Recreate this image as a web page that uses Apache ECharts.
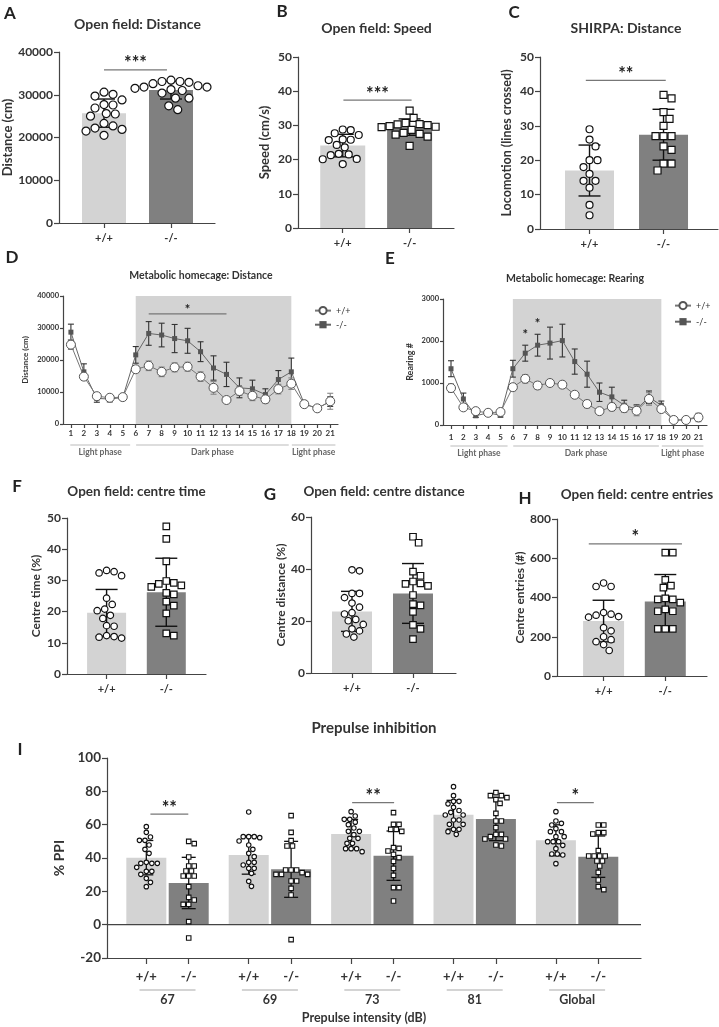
<!DOCTYPE html>
<html><head><meta charset="utf-8">
<script src="https://cdn.jsdelivr.net/npm/echarts@6/dist/echarts.min.js"></script>
<style>html,body{margin:0;padding:0;background:#fff}#c{width:719px;height:1027px}</style>
</head><body><div id="c"></div>
<script>
// ---------------- DATA ----------------
const genotypes = ['+/+', '-/-'];
// A: Open field distance (cm)
const aWT = [30600, 30100, 29700, 28800, 27700, 27600, 26900, 25600, 25500, 25000, 23300, 22700, 22200, 21900, 21500, 20500];
const aKO = [33400, 33100, 33100, 32900, 32600, 32100, 31800, 31800, 31500, 31200, 31000, 30400, 29200, 29200, 27400, 26500];
const aMean = [25700, 31100];
const aSD = [3300, 2100];
// B: Open field speed (cm/s)
const bWT = [28.8, 28.6, 27.7, 27.2, 25.9, 25.8, 25.7, 24.3, 23.6, 21.7, 21.5, 21.3, 20.2, 20.1, 18.7];
const bKO = [34.3, 32.2, 30.7, 30.4, 30.3, 30.1, 29.8, 29.6, 29.5, 28.7, 27.8, 27.5, 27.3, 26.7, 24.0];
const bMean = [24.1, 29.5];
const bSD = [3.3, 2.4];
// C: SHIRPA locomotion (lines crossed)
const cWT = [29, 26, 24, 20, 20, 18, 16, 14, 14, 12, 7, 4];
const cKO = [39, 38, 34, 32, 30, 27, 27, 27, 24, 23, 19, 19, 17];
const cMean = [17, 27.4];
const cSD = [7.4, 7.4];
// D: Metabolic homecage distance (cm), hours 1-21
const hours = [1, 2, 3, 4, 5, 6, 7, 8, 9, 10, 11, 12, 13, 14, 15, 16, 17, 18, 19, 20, 21];
const dWT = [24800, 14800, 8700, 8200, 8400, 17100, 18200, 16300, 17700, 17900, 14800, 11300, 7500, 10300, 8800, 7700, 10900, 12600, 6200, 4900, 7100];
const dWTsd = [1500, 800, 800, 500, 500, 1000, 1500, 1500, 1400, 1400, 1500, 2000, 1000, 1400, 1500, 1200, 1500, 1800, 600, 400, 2500];
const dKO = [28700, 16300, 8000, 7800, 8300, 21600, 28300, 27800, 26700, 26000, 22600, 17500, 15500, 11300, 11000, 9200, 13900, 16300, 6300, 4900, 7000];
const dKOsd = [2500, 2500, 1200, 900, 900, 2600, 3700, 3700, 4400, 3900, 3100, 3800, 3800, 3100, 2700, 1800, 2800, 4300, 900, 400, 1500];
// E: Metabolic homecage rearing (#)
const eWT = [880, 420, 330, 290, 310, 900, 1100, 940, 1000, 960, 720, 500, 330, 430, 400, 340, 620, 380, 120, 120, 180];
const eWTsd = [100, 50, 40, 40, 40, 80, 100, 90, 80, 80, 70, 90, 60, 90, 100, 120, 150, 60, 30, 30, 100];
const eKO = [1340, 620, 220, 290, 230, 1340, 1710, 1900, 1950, 2010, 1510, 1210, 780, 670, 470, 380, 660, 470, 110, 130, 200];
const eKOsd = [190, 140, 40, 40, 40, 200, 190, 260, 380, 390, 300, 310, 220, 230, 120, 100, 150, 100, 30, 30, 60];
const darkPhase = [6, 18];
// F: centre time (%)
const fWT = [33.2, 32.8, 32.4, 31.5, 24.3, 22.3, 20.8, 20.3, 18.8, 17.8, 15.5, 15.3, 12.3, 12.0, 11.8, 11.5];
const fKO = [47.3, 43.3, 36.1, 29.8, 29.2, 28.9, 28.4, 27.9, 26.0, 25.5, 23.2, 21.9, 19.4, 13.0, 12.3];
const fMean = [19.6, 26.2];
const fSD = [7.5, 10.9];
// G: centre distance (%)
const gWT = [39.7, 39.3, 30.6, 30.6, 29.0, 26.9, 25.3, 23.2, 22.7, 20.6, 20.1, 18.7, 17.0, 16.2, 15.0, 13.8];
const gKO = [52.4, 50.1, 39.0, 37.4, 35.2, 34.5, 34.3, 33.5, 30.0, 26.5, 26.0, 23.5, 18.5, 17.0, 13.0];
const gMean = [23.7, 30.6];
const gSD = [7.7, 11.5];
// H: centre entries (#)
const hWT = [474, 456, 456, 323, 315, 310, 303, 300, 246, 230, 200, 185, 175, 160, 130];
const hKO = [629, 629, 490, 461, 450, 396, 390, 390, 374, 340, 330, 330, 240, 240, 240];
const hMean = [280, 379];
const hSD = [106, 138];
// I: Prepulse inhibition (% PPI)
const iGroups = ['67', '69', '73', '81', 'Global'];
const iWT = [
  [58.8, 55.4, 52.6, 50.6, 50.6, 47.8, 45.2, 42.8, 37.4, 36.8, 36.8, 36.8, 34.4, 32, 32, 30.2, 27.8, 25.4, 22.8],
  [67.6, 52.8, 52.8, 52.8, 52.2, 50.2, 47.8, 45.2, 42.8, 40.8, 37.4, 37.4, 35.8, 33.8, 33.8, 30.8, 26, 23],
  [67.8, 65.2, 63.2, 63.2, 61.5, 60, 58, 56, 56, 54, 51.8, 51.8, 48.8, 48.8, 45.6, 45.6, 45.6, 43.8],
  [82.8, 77.4, 74, 74, 72.5, 70.4, 68.5, 67.4, 65.8, 65.8, 62.8, 62.8, 60.2, 60.2, 57.2, 57.2, 55.8, 54.2],
  [67.8, 62.2, 60.8, 59.8, 57.6, 55.8, 55.8, 52.8, 52.8, 49.8, 49.8, 49.8, 47.6, 45.6, 42.4, 42.4, 41.8, 36.6]
];
const iKO = [
  [50, 48.6, 40.6, 35.2, 35.2, 32.2, 32.2, 29.2, 29.2, 29.2, 22.8, 16.4, 14.8, 12.2, 12.2, 1.8, -8],
  [65.4, 55.4, 50.4, 47.2, 47.2, 32.8, 32.8, 32.8, 31.2, 30.2, 30.2, 30.2, 26.2, 26.2, 21.8, 17.8, -9],
  [67.2, 60.2, 60.2, 57.2, 57.2, 56, 46.2, 45.8, 44.2, 42.2, 40.2, 38, 33.8, 29.6, 22.2, 22.2, 14.2],
  [79.2, 77.4, 77.4, 76.2, 75, 72.8, 66.8, 62.2, 62.2, 58.2, 54.2, 54.2, 52.8, 51.4, 51.4, 47.8, 47.2],
  [59.8, 59.8, 55.2, 55.2, 54.4, 44.4, 41.2, 41.2, 41.2, 41.2, 38.2, 38.2, 35.2, 31.4, 26.8, 22.8, 21]
];
const iWTmean = [40.2, 41.8, 54.4, 66, 50.6];
const iWTsd = [10.3, 11.5, 8.8, 8.6, 9.3];
const iKOmean = [25, 33.2, 41.4, 63.4, 40.8];
const iKOsd = [15.4, 16.8, 14.8, 13, 12.4];

// ---------------- STYLE ----------------
const FONT = 'Lato';
const TXT = '#333';
const AX = '#444';
const LIGHT = '#d3d3d3', DARK = '#808080';

const chart = echarts.init(document.getElementById('c'), null, {renderer: 'canvas', width: 719, height: 1027});
const option = {animation: false, backgroundColor: '#fff', grid: [], xAxis: [], yAxis: [], series: [], legend: [], graphic: []};

function swarm(vals, cx, pxX, pxY, size) {
  const placed = [];
  const order = vals.map((v, i) => i).sort((a, b) => vals[b] - vals[a]);
  const res = [];
  const d = size * 1.0;
  order.forEach(i => {
    const y = vals[i] * pxY;
    let chosen = 0;
    for (let k = 0; k < 400; k++) {
      const cand = (k % 2 === 1 ? 1 : -1) * Math.ceil(k / 2) * size * 0.25;
      if (placed.every(q => Math.hypot(q[0] - cand, q[1] - y) >= d)) { chosen = cand; break; }
    }
    placed.push([chosen, y]);
    res.push([cx + chosen / pxX, vals[i]]);
  });
  return res;
}

function errRender(cap, color, lw) {
  return function (params, api) {
    const x = api.value(0);
    const a = api.coord([x, api.value(2)]);
    const b = api.coord([x, api.value(1)]);
    const st = {stroke: color, lineWidth: lw};
    return {type: 'group', children: [
      {type: 'line', shape: {x1: a[0], y1: a[1], x2: b[0], y2: b[1]}, style: st},
      {type: 'line', shape: {x1: a[0] - cap / 2, y1: a[1], x2: a[0] + cap / 2, y2: a[1]}, style: st},
      {type: 'line', shape: {x1: b[0] - cap / 2, y1: b[1], x2: b[0] + cap / 2, y2: b[1]}, style: st}
    ]};
  };
}

function sigRender(texts, fontSize, showLine) {
  return function (params, api) {
    const a = api.coord([api.value(0), api.value(2)]);
    const b = api.coord([api.value(1), api.value(2)]);
    const ch = [];
    if (showLine) ch.push({type: 'line', shape: {x1: a[0], y1: a[1], x2: b[0], y2: b[1]}, style: {stroke: '#777', lineWidth: 1.3}});
    ch.push({type: 'text', x: (a[0] + b[0]) / 2, y: a[1] - fontSize * 0.35, style: {text: texts[params.dataIndex], font: 'bold ' + fontSize + 'px ' + FONT, fill: '#222', align: 'center', verticalAlign: 'middle'}});
    return {type: 'group', children: ch};
  };
}

function yAxisCfg(gi, p) {
  return {type: 'value', gridIndex: gi, min: p.yRange[0], max: p.yRange[1], interval: p.yInt,
    axisLine: {show: true, onZero: false, lineStyle: {color: AX, width: 1.2}},
    axisTick: {show: true, length: p.tickLen || 5, lineStyle: {color: AX, width: 1.2}},
    axisLabel: {color: TXT, fontFamily: FONT, fontWeight: 'bold', fontSize: p.yFont, margin: p.yMargin || 6, formatter: v => String(v)},
    splitLine: {show: false},
    name: p.yName, nameLocation: 'middle', nameGap: p.nameGap, nameRotate: 90,
    nameTextStyle: {color: TXT, fontFamily: FONT, fontWeight: 'bold', fontSize: p.nameFont}};
}

function xAxisCfg(gi, p, positions, fmt) {
  return {type: 'value', gridIndex: gi, min: p.xRange[0], max: p.xRange[1],
    axisLine: {show: true, onZero: false, lineStyle: {color: AX, width: 1.2}},
    axisTick: {show: true, customValues: positions, length: p.xTickLen || 5, lineStyle: {color: AX, width: 1.2}},
    axisLabel: {show: true, customValues: positions, formatter: fmt, color: TXT, fontFamily: FONT, fontWeight: 'bold', fontSize: p.xFont, margin: p.xMargin || 10},
    splitLine: {show: false}};
}

function nearestIdx(arr, v) {
  let best = 0;
  arr.forEach((a, i) => { if (Math.abs(a - v) < Math.abs(arr[best] - v)) best = i; });
  return best;
}

function addBarPanel(p) {
  const gi = option.grid.length;
  option.grid.push({left: p.grid[0], top: p.grid[1], width: p.grid[2], height: p.grid[3]});
  const pxX = p.grid[2] / (p.xRange[1] - p.xRange[0]);
  const pxY = p.grid[3] / (p.yRange[1] - p.yRange[0]);
  option.xAxis.push(xAxisCfg(gi, p, p.xPos, v => p.labels[nearestIdx(p.xPos, v)]));
  option.yAxis.push(yAxisCfg(gi, p));
  option.series.push({type: 'bar', xAxisIndex: gi, yAxisIndex: gi, barWidth: p.barW, silent: true, z: 2,
    data: p.mean.map((m, i) => ({value: [p.xPos[i], m], itemStyle: {color: i % 2 ? DARK : LIGHT}}))});
  if (p.zeroLine) {
    option.series.push({type: 'custom', xAxisIndex: gi, yAxisIndex: gi, silent: true, z: 3,
      data: [[p.xRange[0], p.xRange[1], 0]], encode: {x: [0, 1], y: 2},
      renderItem: (params, api) => {
        const a = api.coord([api.value(0), 0]), b = api.coord([api.value(1), 0]);
        return {type: 'line', shape: {x1: a[0], y1: a[1], x2: b[0], y2: b[1]}, style: {stroke: AX, lineWidth: 1.2}};
      }});
  }
  option.series.push({type: 'custom', xAxisIndex: gi, yAxisIndex: gi, silent: true, z: 4,
    data: p.mean.map((m, i) => [p.xPos[i], m - p.sd[i], m + p.sd[i]]), encode: {x: 0, y: [1, 2]},
    renderItem: errRender(p.cap, '#111', p.errW || 1.4)});
  p.points.forEach((vals, i) => {
    option.series.push({type: 'scatter', xAxisIndex: gi, yAxisIndex: gi, silent: true, z: 5,
      symbol: p.symbols[i % 2], symbolSize: p.sym,
      itemStyle: {color: '#fff', borderColor: '#111', borderWidth: p.symBorder || 1.2, opacity: 1},
      data: swarm(vals, p.xPos[i], pxX, pxY, p.sym + 1)});
  });
  if (p.sig) {
    option.series.push({type: 'custom', xAxisIndex: gi, yAxisIndex: gi, silent: true, z: 6,
      data: p.sig.map(s => [s[0], s[1], s[2]]), encode: {x: [0, 1], y: 2},
      renderItem: sigRender(p.sig.map(s => s[3]), p.sigFont || 18, true)});
  }
  return gi;
}

function addLinePanel(p) {
  const gi = option.grid.length;
  option.grid.push({left: p.grid[0], top: p.grid[1], width: p.grid[2], height: p.grid[3]});
  option.xAxis.push(xAxisCfg(gi, p, hours, v => String(Math.round(v))));
  option.yAxis.push(yAxisCfg(gi, p));
  option.series.push({type: 'custom', xAxisIndex: gi, yAxisIndex: gi, silent: true, z: 1,
    data: [[darkPhase[0], darkPhase[1], p.yRange[0], p.yRange[1]]], encode: {x: [0, 1], y: [2, 3]},
    renderItem: (params, api) => {
      const a = api.coord([api.value(0), api.value(3)]), b = api.coord([api.value(1), api.value(2)]);
      return {type: 'rect', shape: {x: a[0], y: a[1], width: b[0] - a[0], height: b[1] - a[1]}, style: {fill: LIGHT}};
    }});
  option.series.push({type: 'custom', xAxisIndex: gi, yAxisIndex: gi, silent: true, z: 3,
    data: hours.map((h, i) => [h, p.ko[i] - p.kosd[i], p.ko[i] + p.kosd[i]]), encode: {x: 0, y: [1, 2]},
    renderItem: errRender(6, '#333', 1.1)});
  option.series.push({type: 'line', name: '-/-', xAxisIndex: gi, yAxisIndex: gi, silent: true, z: 4,
    symbol: 'rect', symbolSize: 5, itemStyle: {color: '#555'}, lineStyle: {color: '#666', width: 1},
    data: hours.map((h, i) => [h, p.ko[i]])});
  option.series.push({type: 'custom', xAxisIndex: gi, yAxisIndex: gi, silent: true, z: 5,
    data: hours.map((h, i) => [h, p.wt[i] - p.wtsd[i], p.wt[i] + p.wtsd[i]]), encode: {x: 0, y: [1, 2]},
    renderItem: errRender(6, '#888', 1.1)});
  option.series.push({type: 'line', name: '+/+', xAxisIndex: gi, yAxisIndex: gi, silent: true, z: 6,
    symbol: 'circle', symbolSize: 9, itemStyle: {color: '#fff', borderColor: '#555', borderWidth: 1}, lineStyle: {color: '#777', width: 1},
    data: hours.map((h, i) => [h, p.wt[i]])});
  if (p.sig) {
    option.series.push({type: 'custom', xAxisIndex: gi, yAxisIndex: gi, silent: true, z: 7,
      data: p.sig.map(s => [s[0], s[1], s[2]]), encode: {x: [0, 1], y: 2},
      renderItem: sigRender(p.sig.map(s => s[3]), 13, p.sigLine)});
  }
  option.legend.push({orient: 'vertical', left: p.legend[0], top: p.legend[1], itemWidth: 16, itemHeight: 9, itemGap: p.legend[2],
    data: ['+/+', '-/-'], textStyle: {color: TXT, fontFamily: FONT, fontSize: 9}, selectedMode: false});
  return gi;
}

// ---------------- PANELS ----------------
const gA = addBarPanel({grid: [59, 52, 156, 171], xRange: [-0.672, 1.657], yRange: [0, 40000], yInt: 10000,
  xPos: [0, 1], labels: genotypes, points: [aWT, aKO], mean: aMean, sd: aSD, symbols: ['circle', 'circle'], sym: 8,
  barW: 44, cap: 22, yFont: 12, xFont: 11, yName: 'Distance (cm)', nameGap: 45, nameFont: 13,
  sig: [[0, 0.94, 35800, '***']]});
const gB = addBarPanel({grid: [298, 57, 156, 171], xRange: [-0.669, 1.664], yRange: [0, 50], yInt: 10,
  xPos: [0, 1], labels: genotypes, points: [bWT, bKO], mean: bMean, sd: bSD, symbols: ['circle', 'rect'], sym: 7,
  barW: 45, cap: 22, yFont: 12, xFont: 11, yName: 'Speed (cm/s)', nameGap: 27, nameFont: 13,
  sig: [[0.01, 1.03, 37.4, '***']]});
const gC = addBarPanel({grid: [540, 57, 178, 172], xRange: [-0.669, 1.736], yRange: [0, 50], yInt: 10,
  xPos: [0, 1], labels: genotypes, points: [cWT, cKO], mean: cMean, sd: cSD, symbols: ['circle', 'rect'], sym: 7,
  barW: 49, cap: 22, yFont: 12, xFont: 11, yName: 'Locomotion (lines crossed)', nameGap: 27, nameFont: 12.5,
  sig: [[-0.05, 1.03, 43.2, '**']]});
const gD = addLinePanel({grid: [63, 296, 275, 128], xRange: [0.39, 21.6], yRange: [0, 40000], yInt: 10000,
  wt: dWT, wtsd: dWTsd, ko: dKO, kosd: dKOsd, yFont: 7.5, xFont: 8, xMargin: 5, tickLen: 3, xTickLen: 4,
  yName: 'Distance (cm)', nameGap: 34, nameFont: 8, yMargin: 4,
  legend: [309, 301, 5], sig: [[7, 13, 34400, '*']], sigLine: true});
const gE = addLinePanel({grid: [443, 299, 264, 126], xRange: [0.353, 21.69], yRange: [0, 3000], yInt: 1000,
  wt: eWT, wtsd: eWTsd, ko: eKO, kosd: eKOsd, yFont: 7.5, xFont: 8, xMargin: 8, tickLen: 3, xTickLen: 4,
  yName: 'Rearing #', nameGap: 28, nameFont: 9, yMargin: 4,
  legend: [669, 296, 7], sig: [[7, 7, eKO[6] + eKOsd[6] + 150, '*'], [8, 8, eKO[7] + eKOsd[7] + 150, '*']], sigLine: false});
const gF = addBarPanel({grid: [67, 518, 139, 156], xRange: [-0.663, 1.665], yRange: [0, 50], yInt: 10,
  xPos: [0, 1], labels: genotypes, points: [fWT, fKO], mean: fMean, sd: fSD, symbols: ['circle', 'rect'], sym: 6.5,
  barW: 39, cap: 22, yFont: 12, xFont: 11, yName: 'Centre time (%)', nameGap: 25, nameFont: 12});
const gG = addBarPanel({grid: [311, 517, 145, 156], xRange: [-0.672, 1.705], yRange: [0, 60], yInt: 20,
  xPos: [0, 1], labels: genotypes, points: [gWT, gKO], mean: gMean, sd: gSD, symbols: ['circle', 'rect'], sym: 6.5,
  barW: 40, cap: 22, yFont: 12, xFont: 11, yName: 'Centre distance (%)', nameGap: 22, nameFont: 12});
const gH = addBarPanel({grid: [557, 519, 150, 157], xRange: [-0.755, 1.676], yRange: [0, 800], yInt: 200,
  xPos: [0, 1], labels: genotypes, points: [hWT, hKO], mean: hMean, sd: hSD, symbols: ['circle', 'rect'], sym: 6.5,
  barW: 41, cap: 22, yFont: 12, xFont: 11, yName: 'Centre entries (#)', nameGap: 26, nameFont: 12,
  sig: [[-0.24, 1.27, 673, '*']]});

const iPos = [], iMeans = [], iSDs = [], iPts = [];
iGroups.forEach((g, k) => {
  iPos.push(k, k + 0.414);
  iMeans.push(iWTmean[k], iKOmean[k]);
  iSDs.push(iWTsd[k], iKOsd[k]);
  iPts.push(iWT[k], iKO[k]);
});
const gI = addBarPanel({grid: [107, 758, 534, 200], xRange: [-0.384, 4.831], yRange: [-20, 100], yInt: 20,
  xPos: iPos, labels: iPos.map((p, i) => genotypes[i % 2]), points: iPts, mean: iMeans, sd: iSDs,
  symbols: ['circle', 'rect'], sym: 4.5, symBorder: 1.1, barW: 40, cap: 14, errW: 1.3, yFont: 13.5, xFont: 13, xMargin: 12, xTickLen: 6,
  yName: '% PPI', nameGap: 41, nameFont: 14, zeroLine: true,
  sig: [[0.04, 0.41, 66.3, '**'], [2.01, 2.42, 73.2, '**'], [4.01, 4.37, 73.2, '*']]});

chart.setOption(option);

// ---------------- TEXT DECORATIONS ----------------
const P = (gi, x, y) => chart.convertToPixel({gridIndex: gi}, [x, y]);
const G = [];
function txt(x, y, text, size, color, weight) {
  G.push({type: 'text', x: x, y: y, silent: true, style: {text: text, font: (weight || 'bold') + ' ' + size + 'px ' + FONT, fill: color || TXT, align: 'center', verticalAlign: 'middle'}});
}
function hline(x1, x2, y, color) {
  G.push({type: 'line', silent: true, shape: {x1: x1, y1: y, x2: x2, y2: y}, style: {stroke: color, lineWidth: 1.2}});
}
// panel letters
[['A', 10, 14], ['B', 282, 12], ['C', 514, 13], ['D', 12, 258], ['E', 390, 259], ['F', 17, 487], ['G', 270, 495], ['H', 525, 499], ['I', 20, 750]]
  .forEach(l => txt(l[1], l[2], l[0], 17, '#222'));
// titles
txt(137.5, 24, 'Open field: Distance', 14);
txt(376.5, 28, 'Open field: Speed', 14);
txt(626, 28, 'SHIRPA: Distance', 14);
txt(201, 276, 'Metabolic homecage: Distance', 10.5);
txt(575, 279, 'Metabolic homecage: Rearing', 10.5);
txt(136.5, 492, 'Open field: centre time', 13.5);
txt(384, 492, 'Open field: centre distance', 13.5);
txt(637, 495, 'Open field: centre entries', 13.5);
txt(374, 728, 'Prepulse inhibition', 15);
// phases under D and E
const phases = [['Light phase', 0.95, 5.57], ['Dark phase', 6.03, 17.8], ['Light phase', 18.04, 21.4]];
[gD, gE].forEach(gi => {
  phases.forEach(ph => {
    const a = P(gi, ph[1], 0), b = P(gi, ph[2], 0);
    hline(a[0], b[0], a[1] + 21, '#bbb');
    txt((a[0] + b[0]) / 2, a[1] + 28, ph[0], 8.5, '#666');
  });
});
// group labels under I
iGroups.forEach((g, k) => {
  const a = P(gI, k, -20), b = P(gI, k + 0.414, -20);
  const cx = (a[0] + b[0]) / 2;
  hline(cx - 28, cx + 28, a[1] + 32, '#aaa');
  txt(cx, a[1] + 42, g, 12.5);
});
txt(364, 1018, 'Prepulse intensity (dB)', 12.5);
chart.setOption({graphic: G});
</script></body></html>
